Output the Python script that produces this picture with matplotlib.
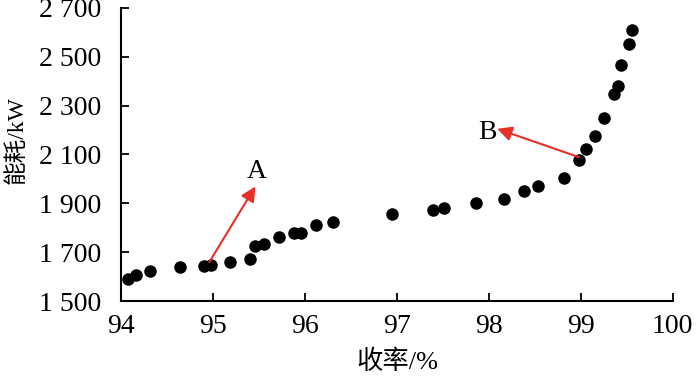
import matplotlib
matplotlib.use("Agg")
import matplotlib.pyplot as plt

plt.rcParams['font.family'] = ['Liberation Serif', 'Noto Sans CJK SC']

# yield (%) and energy consumption (kW)
rate = [94.07, 94.16, 94.31, 94.64, 94.90, 94.98, 95.18, 95.40, 95.46,
        95.55, 95.72, 95.88, 95.96, 96.12, 96.30, 96.95, 97.39, 97.51,
        97.86, 98.17, 98.38, 98.53, 98.82, 98.98, 99.06, 99.15, 99.25,
        99.36, 99.41, 99.44, 99.53, 99.56]
power = [1590, 1606, 1624, 1640, 1644, 1647, 1658, 1673, 1726,
         1734, 1761, 1780, 1780, 1811, 1825, 1858, 1871, 1880,
         1903, 1916, 1949, 1970, 2002, 2078, 2123, 2175, 2248,
         2348, 2379, 2466, 2553, 2610]

xticks = [94, 95, 96, 97, 98, 99, 100]
yticks = [1500, 1700, 1900, 2100, 2300, 2500, 2700]
ytick_labels = ['1 500', '1 700', '1 900', '2 100', '2 300', '2 500', '2 700']

# annotations: label, text position, arrow tip, arrow tail (on the curve)
labels = ['A', 'B']
label_pos = [(95.48, 2030), (97.98, 2191)]
arrow_tip = [(95.46, 1969), (98.09, 2205)]
arrow_tail = [(94.96, 1660), (98.98, 2089)]

fig = plt.figure(figsize=(7, 3.92), dpi=100)
ax = fig.add_axes([0.173, 0.232, 0.788, 0.748])

ax.scatter(rate, power, s=64, color='black', zorder=3)

for lab, pos, tip, tail in zip(labels, label_pos, arrow_tip, arrow_tail):
    ax.annotate('', xy=tip, xytext=tail,
                arrowprops=dict(arrowstyle='-|>', color='#e8302a', lw=1.5,
                                mutation_scale=22, shrinkA=0, shrinkB=0))
    ax.text(pos[0], pos[1], lab, fontsize=20, ha='center', va='center')

ax.set_xlim(94, 100)
ax.set_ylim(1500, 2700)
ax.set_xticks(xticks)
ax.set_yticks(yticks)
ax.set_yticklabels(ytick_labels)
ax.tick_params(direction='in', length=6, width=1.3, labelsize=20)
ax.tick_params(axis='x', pad=9)
ax.tick_params(axis='y', pad=14)

for side in ['top', 'right']:
    ax.spines[side].set_visible(False)
for side in ['left', 'bottom']:
    ax.spines[side].set_linewidth(1.5)

ax.set_xlabel('收率/%', fontsize=19)
ax.set_ylabel('能耗/kW', fontsize=17)
ax.xaxis.set_label_coords(0.5, -0.165)
ax.yaxis.set_label_coords(-0.17, 0.55)

fig.savefig('out.png', dpi=100)
